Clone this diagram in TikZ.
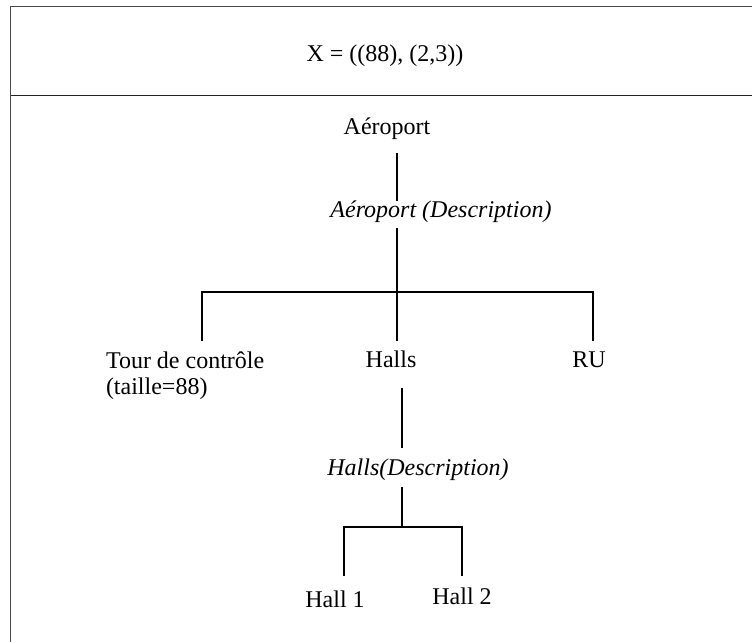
\documentclass[tikz,border=0pt]{standalone}
\usepackage{fontspec}
\setmainfont{Liberation Serif}
\usetikzlibrary{calc}
\begin{document}
\begin{tikzpicture}[x=1bp,y=1bp,
  lbl/.style={inner sep=0pt, outer sep=0pt, text height=17bp, text depth=5bp, anchor=base,
              font=\fontsize{24bp}{26bp}\selectfont},
  desclbl/.style={lbl, font=\fontsize{24bp}{26bp}\selectfont\itshape},
  frameline/.style={draw={rgb,255:red,72;green,72;blue,72}, line width=1.8bp},
  divline/.style={draw={rgb,255:red,35;green,35;blue,35}, line width=1.8bp},
  branch/.style={draw=black, line width=1.2bp}]
  \useasboundingbox (0,0) rectangle (752,642);

  % outer frame and header divider
  \draw[frameline] (10.5,0) -- (10.5,635.5) -- (752,635.5);
  \draw[divline] (10.5,546.5) -- (752,546.5);

  % header
  \node[lbl] (title) at (385,580) {X = ((88), (2,3))};

  % tree nodes
  \node[lbl] (aer) at (387,507) {Aéroport};
  \node[desclbl] (desc) at (441,424) {Aéroport (Description)};
  \node[inner sep=0pt, outer sep=0pt, anchor=north west, align=left,
        font=\fontsize{24bp}{26bp}\selectfont] (tour) at (106,290.5)
        {Tour de contrôle\\(taille=88)};
  \node[lbl] (halls) at (391,274) {Halls};
  \node[lbl] (ru) at (589,274) {RU};
  \node[desclbl] (hdesc) at (418,166) {Halls(Description)};
  \node[lbl] (h1) at (335,34) {Hall 1};
  \node[lbl] (h2) at (462,37) {Hall 2};

  % branching points
  \coordinate (j0) at (397,350);
  \coordinate (jl) at (202,350);
  \coordinate (jr) at (593,350);
  \coordinate (j1) at (402,115);
  \coordinate (kl) at (344,115);
  \coordinate (kr) at (462,115);

  % connectors
  \draw[branch, shorten <=13bp] (aer.south -| j0) -- (desc.north -| j0);
  \draw[branch, shorten <=5bp] (desc.south -| j0) -- (j0);
  \draw[branch, shorten <=10.5bp, shorten >=10bp]
    (tour.north -| jl) -- (jl) -- (jr) -- (ru.north -| jr);
  \draw[branch, shorten >=10bp] (j0) -- (halls.north -| j0);
  \draw[branch, shorten <=15bp, shorten >=11bp] (halls.south -| j1) -- (hdesc.north -| j1);
  \draw[branch, shorten <=6bp] (hdesc.south -| j1) -- (j1);
  \draw[branch, shorten <=15bp, shorten >=12bp]
    (h1.north -| kl) -- (kl) -- (kr) -- (h2.north -| kr);
\end{tikzpicture}
\end{document}
